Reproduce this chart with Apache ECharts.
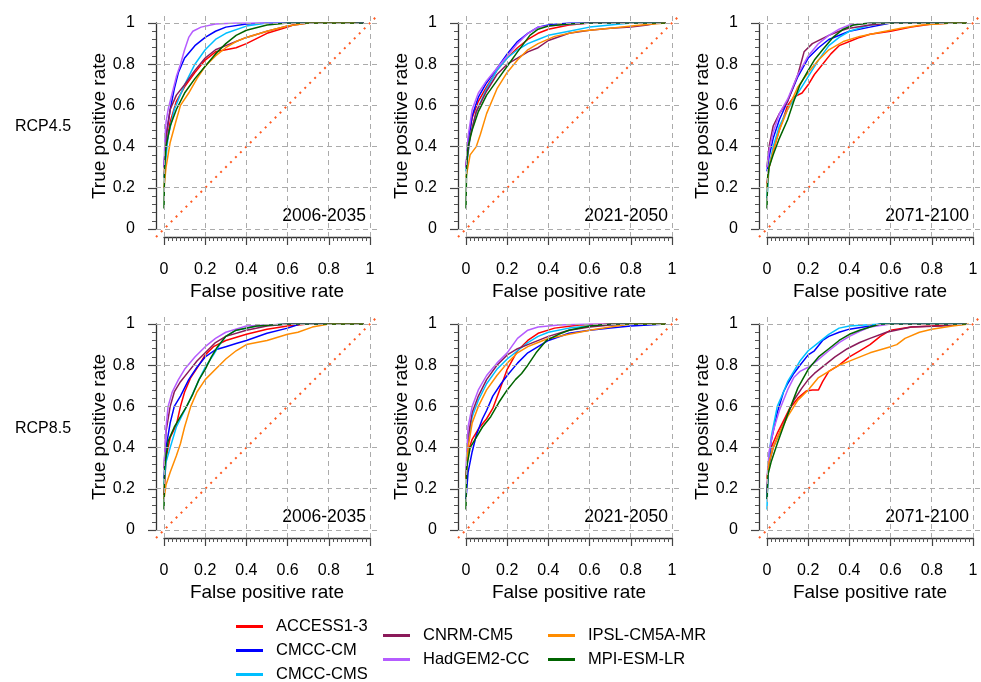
<!DOCTYPE html>
<html>
<head>
<meta charset="utf-8">
<script src="https://cdn.jsdelivr.net/npm/echarts@6/dist/echarts.min.js"></script>
<style>
html,body{margin:0;padding:0;background:#fff;}
#chart{width:981px;height:682px;}
</style>
</head>
<body>
<div id="chart"></div>
<script>
// ---------------- DATA ----------------
const models = ['ACCESS1-3','CMCC-CM','CMCC-CMS','CNRM-CM5','HadGEM2-CC','IPSL-CM5A-MR','MPI-ESM-LR'];
const scenarios = ['RCP4.5','RCP8.5'];
const periods = ['2006-2035','2021-2050','2071-2100'];
const tickValues = [0,0.2,0.4,0.6,0.8,1];

// RCP4.5, 2006-2035
const r45_2006_ACCESS = [[0,0.25],[0.01,0.4],[0.03,0.52],[0.06,0.62],[0.1,0.69],[0.15,0.76],[0.2,0.82],[0.25,0.86],[0.3,0.87],[0.35,0.88],[0.4,0.9],[0.5,0.95],[0.6,0.98],[0.65,1],[0.97,1]];
const r45_2006_CMCCCM = [[0,0.3],[0.01,0.45],[0.03,0.58],[0.05,0.68],[0.07,0.76],[0.1,0.83],[0.15,0.89],[0.2,0.93],[0.25,0.96],[0.3,0.98],[0.4,0.995],[0.5,1],[0.97,1]];
const r45_2006_CMCCCMS = [[0,0.25],[0.02,0.45],[0.05,0.58],[0.1,0.7],[0.15,0.8],[0.2,0.87],[0.25,0.92],[0.3,0.95],[0.4,0.985],[0.5,1],[0.97,1]];
const r45_2006_CNRM = [[0,0.3],[0.01,0.45],[0.03,0.58],[0.06,0.65],[0.1,0.7],[0.15,0.77],[0.2,0.83],[0.25,0.87],[0.3,0.89],[0.35,0.91],[0.4,0.93],[0.5,0.96],[0.6,0.985],[0.7,1],[0.97,1]];
const r45_2006_HadGEM = [[0,0.3],[0.005,0.45],[0.01,0.52],[0.02,0.58],[0.04,0.66],[0.06,0.74],[0.08,0.8],[0.1,0.87],[0.12,0.93],[0.14,0.96],[0.18,0.98],[0.25,0.995],[0.35,1],[0.97,1]];
const r45_2006_IPSL = [[0,0.2],[0.01,0.3],[0.03,0.42],[0.06,0.53],[0.08,0.6],[0.12,0.66],[0.16,0.73],[0.2,0.79],[0.25,0.84],[0.3,0.88],[0.35,0.91],[0.4,0.93],[0.5,0.96],[0.6,0.985],[0.7,1],[0.93,1]];
const r45_2006_MPI = [[0,0.1],[0.003,0.3],[0.01,0.4],[0.03,0.5],[0.06,0.58],[0.1,0.66],[0.15,0.73],[0.2,0.79],[0.25,0.85],[0.3,0.9],[0.35,0.94],[0.4,0.965],[0.5,0.99],[0.6,1],[0.97,1]];

// RCP4.5, 2021-2050
const r45_2021_ACCESS = [[0,0.3],[0.01,0.42],[0.03,0.54],[0.06,0.62],[0.1,0.69],[0.15,0.77],[0.2,0.83],[0.25,0.88],[0.3,0.92],[0.35,0.95],[0.4,0.97],[0.5,0.99],[0.6,1],[0.97,1]];
const r45_2021_CMCCCM = [[0,0.3],[0.01,0.42],[0.03,0.55],[0.06,0.64],[0.1,0.71],[0.15,0.78],[0.2,0.85],[0.25,0.91],[0.3,0.95],[0.35,0.98],[0.4,0.99],[0.5,1],[0.97,1]];
const r45_2021_CMCCCMS = [[0,0.28],[0.02,0.45],[0.05,0.57],[0.1,0.68],[0.15,0.77],[0.2,0.83],[0.25,0.87],[0.3,0.9],[0.35,0.92],[0.4,0.94],[0.5,0.96],[0.6,0.98],[0.7,0.99],[0.8,1],[0.97,1]];
const r45_2021_CNRM = [[0,0.3],[0.02,0.45],[0.05,0.57],[0.1,0.67],[0.15,0.75],[0.2,0.8],[0.25,0.83],[0.3,0.86],[0.35,0.88],[0.4,0.915],[0.5,0.95],[0.6,0.965],[0.7,0.975],[0.8,0.98],[0.88,0.99],[0.93,1],[0.97,1]];
const r45_2021_HadGEM = [[0,0.3],[0.01,0.45],[0.03,0.58],[0.06,0.66],[0.1,0.72],[0.15,0.78],[0.2,0.84],[0.25,0.9],[0.3,0.95],[0.35,0.98],[0.45,0.99],[0.6,1],[0.97,1]];
const r45_2021_IPSL = [[0,0.25],[0.02,0.36],[0.05,0.4],[0.07,0.46],[0.1,0.56],[0.15,0.68],[0.2,0.76],[0.25,0.82],[0.3,0.87],[0.35,0.9],[0.43,0.935],[0.55,0.96],[0.7,0.975],[0.85,0.99],[0.97,1]];
const r45_2021_MPI = [[0,0.1],[0.003,0.3],[0.01,0.4],[0.03,0.48],[0.06,0.57],[0.1,0.65],[0.15,0.72],[0.2,0.79],[0.25,0.86],[0.28,0.9],[0.31,0.94],[0.35,0.97],[0.4,0.985],[0.5,0.995],[0.6,1],[0.97,1]];

// RCP4.5, 2071-2100
const r45_2071_ACCESS = [[0,0.22],[0.01,0.3],[0.03,0.38],[0.06,0.48],[0.1,0.6],[0.13,0.64],[0.17,0.66],[0.2,0.7],[0.23,0.75],[0.27,0.8],[0.31,0.85],[0.35,0.89],[0.4,0.91],[0.45,0.93],[0.5,0.945],[0.6,0.96],[0.7,0.98],[0.8,0.995],[0.9,1],[0.97,1]];
const r45_2071_CMCCCM = [[0,0.28],[0.01,0.35],[0.03,0.44],[0.06,0.53],[0.1,0.62],[0.15,0.74],[0.2,0.83],[0.25,0.88],[0.3,0.92],[0.4,0.96],[0.5,0.98],[0.6,1],[0.97,1]];
const r45_2071_CMCCCMS = [[0,0.15],[0.01,0.3],[0.03,0.4],[0.06,0.5],[0.1,0.58],[0.15,0.66],[0.2,0.74],[0.25,0.82],[0.3,0.89],[0.35,0.93],[0.4,0.96],[0.5,0.99],[0.6,1],[0.97,1]];
const r45_2071_CNRM = [[0,0.3],[0.01,0.4],[0.03,0.5],[0.06,0.56],[0.1,0.62],[0.15,0.75],[0.18,0.86],[0.22,0.9],[0.3,0.94],[0.35,0.96],[0.4,0.975],[0.5,0.99],[0.6,1],[0.97,1]];
const r45_2071_HadGEM = [[0,0.3],[0.01,0.38],[0.03,0.47],[0.06,0.56],[0.1,0.63],[0.15,0.75],[0.2,0.84],[0.25,0.9],[0.3,0.94],[0.35,0.97],[0.4,0.99],[0.5,1],[0.97,1]];
const r45_2071_IPSL = [[0,0.2],[0.01,0.3],[0.03,0.38],[0.06,0.48],[0.1,0.58],[0.15,0.69],[0.2,0.76],[0.25,0.82],[0.3,0.87],[0.37,0.91],[0.45,0.935],[0.55,0.955],[0.65,0.975],[0.75,0.99],[0.9,1],[0.97,1]];
const r45_2071_MPI = [[0,0.1],[0.003,0.25],[0.01,0.3],[0.03,0.36],[0.06,0.44],[0.1,0.53],[0.13,0.62],[0.16,0.7],[0.2,0.77],[0.23,0.82],[0.27,0.87],[0.32,0.93],[0.37,0.97],[0.42,0.99],[0.5,1],[0.97,1]];

// RCP8.5, 2006-2035
const r85_2006_ACCESS = [[0,0.17],[0.01,0.35],[0.03,0.45],[0.06,0.51],[0.08,0.6],[0.1,0.67],[0.13,0.74],[0.17,0.8],[0.2,0.85],[0.24,0.89],[0.3,0.92],[0.4,0.95],[0.5,0.975],[0.6,0.99],[0.7,1],[0.97,1]];
const r85_2006_CMCCCM = [[0,0.25],[0.01,0.4],[0.03,0.52],[0.05,0.6],[0.08,0.65],[0.12,0.73],[0.16,0.79],[0.2,0.84],[0.25,0.875],[0.3,0.89],[0.35,0.905],[0.4,0.92],[0.5,0.955],[0.6,0.98],[0.66,1],[0.97,1]];
const r85_2006_CMCCCMS = [[0,0.22],[0.01,0.33],[0.03,0.4],[0.06,0.5],[0.1,0.58],[0.13,0.64],[0.17,0.73],[0.2,0.79],[0.24,0.85],[0.27,0.9],[0.3,0.94],[0.35,0.97],[0.45,0.99],[0.6,1],[0.97,1]];
const r85_2006_CNRM = [[0,0.3],[0.01,0.48],[0.03,0.6],[0.05,0.67],[0.08,0.72],[0.12,0.77],[0.16,0.82],[0.2,0.86],[0.25,0.91],[0.3,0.94],[0.4,0.97],[0.5,0.99],[0.6,1],[0.97,1]];
const r85_2006_HadGEM = [[0,0.3],[0.01,0.5],[0.02,0.6],[0.04,0.67],[0.07,0.73],[0.1,0.78],[0.15,0.84],[0.2,0.89],[0.25,0.93],[0.3,0.96],[0.4,0.99],[0.6,1],[0.97,1]];
const r85_2006_IPSL = [[0,0.15],[0.01,0.22],[0.03,0.28],[0.06,0.36],[0.08,0.42],[0.1,0.5],[0.13,0.6],[0.16,0.67],[0.2,0.73],[0.25,0.78],[0.3,0.83],[0.35,0.87],[0.4,0.9],[0.5,0.92],[0.6,0.95],[0.65,0.96],[0.72,0.985],[0.8,1],[0.97,1]];
const r85_2006_MPI = [[0,0.1],[0.003,0.3],[0.02,0.43],[0.05,0.5],[0.08,0.55],[0.11,0.6],[0.14,0.66],[0.17,0.73],[0.2,0.78],[0.23,0.84],[0.26,0.89],[0.3,0.94],[0.35,0.97],[0.45,0.99],[0.6,1],[0.97,1]];

// RCP8.5, 2021-2050
const r85_2021_ACCESS = [[0,0.25],[0.01,0.38],[0.03,0.44],[0.06,0.49],[0.1,0.54],[0.13,0.59],[0.16,0.67],[0.2,0.78],[0.25,0.87],[0.3,0.92],[0.35,0.955],[0.43,0.98],[0.55,0.995],[0.7,1],[0.97,1]];
const r85_2021_CMCCCM = [[0,0.15],[0.01,0.28],[0.03,0.38],[0.05,0.46],[0.08,0.54],[0.1,0.58],[0.13,0.65],[0.17,0.71],[0.2,0.75],[0.25,0.81],[0.3,0.86],[0.35,0.89],[0.4,0.92],[0.5,0.955],[0.6,0.97],[0.7,0.98],[0.8,0.99],[0.97,1]];
const r85_2021_CMCCCMS = [[0,0.25],[0.01,0.42],[0.03,0.55],[0.06,0.63],[0.1,0.71],[0.15,0.78],[0.2,0.83],[0.25,0.87],[0.3,0.91],[0.35,0.94],[0.4,0.96],[0.5,0.98],[0.6,0.99],[0.8,1],[0.97,1]];
const r85_2021_CNRM = [[0,0.25],[0.01,0.45],[0.03,0.57],[0.06,0.65],[0.1,0.73],[0.15,0.8],[0.2,0.85],[0.25,0.88],[0.3,0.9],[0.4,0.94],[0.5,0.97],[0.6,0.985],[0.7,0.995],[0.8,1],[0.97,1]];
const r85_2021_HadGEM = [[0,0.3],[0.01,0.5],[0.03,0.6],[0.06,0.68],[0.1,0.75],[0.15,0.81],[0.2,0.86],[0.25,0.93],[0.3,0.97],[0.35,0.985],[0.45,0.995],[0.6,1],[0.97,1]];
const r85_2021_IPSL = [[0,0.25],[0.01,0.4],[0.03,0.52],[0.06,0.6],[0.1,0.68],[0.15,0.75],[0.2,0.81],[0.25,0.86],[0.3,0.89],[0.35,0.91],[0.4,0.93],[0.5,0.95],[0.6,0.97],[0.7,0.985],[0.8,1],[0.97,1]];
const r85_2021_MPI = [[0,0.1],[0.003,0.3],[0.02,0.4],[0.05,0.45],[0.08,0.5],[0.12,0.55],[0.16,0.62],[0.2,0.68],[0.24,0.73],[0.27,0.76],[0.3,0.8],[0.34,0.86],[0.39,0.92],[0.45,0.95],[0.5,0.97],[0.6,0.99],[0.7,1],[0.97,1]];

// RCP8.5, 2071-2100
const r85_2071_ACCESS = [[0,0.18],[0.005,0.3],[0.02,0.4],[0.05,0.47],[0.08,0.53],[0.11,0.59],[0.15,0.64],[0.19,0.675],[0.22,0.68],[0.25,0.68],[0.27,0.72],[0.3,0.77],[0.35,0.8],[0.4,0.84],[0.45,0.87],[0.5,0.9],[0.55,0.94],[0.6,0.97],[0.7,0.985],[0.8,0.99],[0.95,1],[0.97,1]];
const r85_2071_CMCCCM = [[0,0.15],[0.005,0.3],[0.02,0.43],[0.05,0.57],[0.08,0.67],[0.1,0.71],[0.13,0.76],[0.16,0.8],[0.2,0.85],[0.23,0.87],[0.27,0.92],[0.3,0.94],[0.35,0.96],[0.4,0.975],[0.5,0.99],[0.55,1],[0.97,1]];
const r85_2071_CMCCCMS = [[0,0.1],[0.005,0.3],[0.02,0.45],[0.05,0.6],[0.08,0.67],[0.1,0.72],[0.13,0.77],[0.16,0.82],[0.2,0.87],[0.25,0.91],[0.3,0.95],[0.35,0.98],[0.4,0.99],[0.55,1],[0.97,1]];
const r85_2071_CNRM = [[0,0.25],[0.01,0.32],[0.03,0.4],[0.06,0.47],[0.1,0.56],[0.13,0.63],[0.17,0.69],[0.2,0.73],[0.23,0.76],[0.28,0.8],[0.33,0.84],[0.39,0.88],[0.45,0.91],[0.5,0.93],[0.58,0.96],[0.7,0.985],[0.85,0.99],[0.97,1]];
const r85_2071_HadGEM = [[0,0.25],[0.01,0.38],[0.03,0.48],[0.06,0.58],[0.1,0.68],[0.13,0.74],[0.16,0.77],[0.2,0.79],[0.24,0.82],[0.3,0.87],[0.35,0.91],[0.4,0.94],[0.45,0.965],[0.5,0.985],[0.6,1],[0.97,1]];
const r85_2071_IPSL = [[0,0.25],[0.01,0.33],[0.03,0.4],[0.06,0.47],[0.1,0.55],[0.15,0.63],[0.2,0.68],[0.25,0.74],[0.3,0.77],[0.35,0.8],[0.4,0.82],[0.5,0.86],[0.6,0.89],[0.63,0.9],[0.67,0.93],[0.74,0.96],[0.8,0.975],[0.9,0.99],[0.98,1]];
const r85_2071_MPI = [[0,0.15],[0.005,0.27],[0.02,0.33],[0.05,0.42],[0.1,0.56],[0.15,0.69],[0.2,0.78],[0.25,0.84],[0.3,0.88],[0.35,0.92],[0.4,0.95],[0.45,0.97],[0.5,0.985],[0.55,1],[0.97,1]];

// Chance (random classifier) diagonal
const diagonal = [[-0.04,-0.04],[1.04,1.04]];

// Panels built from the named arrays (row-major: RCP4.5 then RCP8.5)
const panelCurves = [
  [r45_2006_ACCESS, r45_2006_CMCCCM, r45_2006_CMCCCMS, r45_2006_CNRM, r45_2006_HadGEM, r45_2006_IPSL, r45_2006_MPI],
  [r45_2021_ACCESS, r45_2021_CMCCCM, r45_2021_CMCCCMS, r45_2021_CNRM, r45_2021_HadGEM, r45_2021_IPSL, r45_2021_MPI],
  [r45_2071_ACCESS, r45_2071_CMCCCM, r45_2071_CMCCCMS, r45_2071_CNRM, r45_2071_HadGEM, r45_2071_IPSL, r45_2071_MPI],
  [r85_2006_ACCESS, r85_2006_CMCCCM, r85_2006_CMCCCMS, r85_2006_CNRM, r85_2006_HadGEM, r85_2006_IPSL, r85_2006_MPI],
  [r85_2021_ACCESS, r85_2021_CMCCCM, r85_2021_CMCCCMS, r85_2021_CNRM, r85_2021_HadGEM, r85_2021_IPSL, r85_2021_MPI],
  [r85_2071_ACCESS, r85_2071_CMCCCM, r85_2071_CMCCCMS, r85_2071_CNRM, r85_2071_HadGEM, r85_2071_IPSL, r85_2071_MPI]
];

// ---------------- STYLE / LAYOUT ----------------
const modelColors = ['#ff0000','#0000ff','#00bfff','#8b1a5a','#b55cff','#ff8c00','#006400'];
const colLeft = [164, 466, 767];
const rowTop = [23, 324];
const boxSize = 206;
const pad = 8;
const FONT = 'Liberation Sans, Arial, sans-serif';

const grids = [], xAxes = [], yAxes = [], series = [], graphics = [];

panelCurves.forEach((curves, p) => {
  const r = Math.floor(p / 3), c = p % 3;
  const L = colLeft[c], T = rowTop[r];
  // background grid (extended plot region, -0.04..1.04)
  grids.push({left: L - pad, top: T - pad, width: boxSize + 2*pad, height: boxSize + 2*pad});
  xAxes.push({type:'value', gridIndex: 2*p, min:-0.04, max:1.04, show:false});
  yAxes.push({type:'value', gridIndex: 2*p, min:-0.04, max:1.04, show:false});
  // data grid (0..1)
  grids.push({left: L, top: T, width: boxSize, height: boxSize});
  xAxes.push({
    type:'value', gridIndex: 2*p+1, min:0, max:1, interval:0.2, position:'bottom', offset: pad,
    axisLine:{show:true, onZero:false, lineStyle:{color:'#333', width:1.3}},
    axisTick:{show:true, length:8, lineStyle:{color:'#444', width:1.2}},
    minorTick:{show:true, splitNumber:10, length:4, lineStyle:{color:'#555'}},
    splitLine:{show:false},
    axisLabel:{fontSize:16, color:'#000', margin:25, fontFamily:FONT},
    name:'False positive rate', nameLocation:'middle', nameGap:45,
    nameTextStyle:{fontSize:19, color:'#000', fontFamily:FONT}
  });
  yAxes.push({
    type:'value', gridIndex: 2*p+1, min:0, max:1, interval:0.2, position:'left', offset: pad,
    axisLine:{show:true, onZero:false, lineStyle:{color:'#333', width:1.3}},
    axisTick:{show:true, length:8, lineStyle:{color:'#444', width:1.2}},
    minorTick:{show:true, splitNumber:5, length:4, lineStyle:{color:'#555'}},
    splitLine:{show:false},
    axisLabel:{fontSize:16, color:'#000', margin:21, fontFamily:FONT},
    name:'True positive rate', nameLocation:'middle', nameGap:41,
    nameTextStyle:{fontSize:19, color:'#000', fontFamily:FONT}
  });
  // grid lines + diagonal
  series.push({
    type:'line', xAxisIndex:2*p, yAxisIndex:2*p, data: diagonal, showSymbol:false, symbol:'none',
    silent:true, z:1, clip:false,
    lineStyle:{color:'#ff5a22', width:2, type:[2,5]},
    markLine:{
      silent:true, symbol:['none','none'], label:{show:false},
      lineStyle:{color:'#ababab', width:1, type:[5,4]},
      data: tickValues.map(v => ({xAxis:v})).concat(tickValues.map(v => ({yAxis:v})))
    }
  });
  curves.forEach((d, m) => {
    series.push({
      name: models[m], type:'line', xAxisIndex:2*p+1, yAxisIndex:2*p+1, data:d,
      showSymbol:false, symbol:'none', z:2,
      lineStyle:{color:modelColors[m], width:1.5}, itemStyle:{color:modelColors[m]}
    });
  });
  graphics.push({
    type:'text', right: 981 - (L + 202), top: T + 194 - 10,
    style:{text: periods[c], fill:'#000', font:'17.5px ' + FONT, textAlign:'right'}
  });
});

scenarios.forEach((s, r) => {
  graphics.push({
    type:'text', left: 15, top: [128, 430][r] - 9,
    style:{text: s, fill:'#000', font:'16px ' + FONT}
  });
});

const legendBase = {
  orient:'vertical', icon:'rect', itemWidth:27, itemHeight:3, itemGap:7, height:120, padding:0,
  textStyle:{fontSize:16.5, color:'#000', fontFamily:FONT, padding:[0,0,0,8]},
  selectedMode:false
};

const option = {
  animation:false,
  backgroundColor:'#fff',
  grid: grids,
  xAxis: xAxes,
  yAxis: yAxes,
  series: series,
  graphic: graphics,
  legend: [
    Object.assign({}, legendBase, {left:236, top:618, data: models.slice(0,3)}),
    Object.assign({}, legendBase, {left:383, top:627, data: models.slice(3,5)}),
    Object.assign({}, legendBase, {left:548, top:627, data: models.slice(5,7)})
  ]
};

const chart = echarts.init(document.getElementById('chart'), null, {renderer:'canvas'});
chart.setOption(option);
</script>
</body>
</html>
